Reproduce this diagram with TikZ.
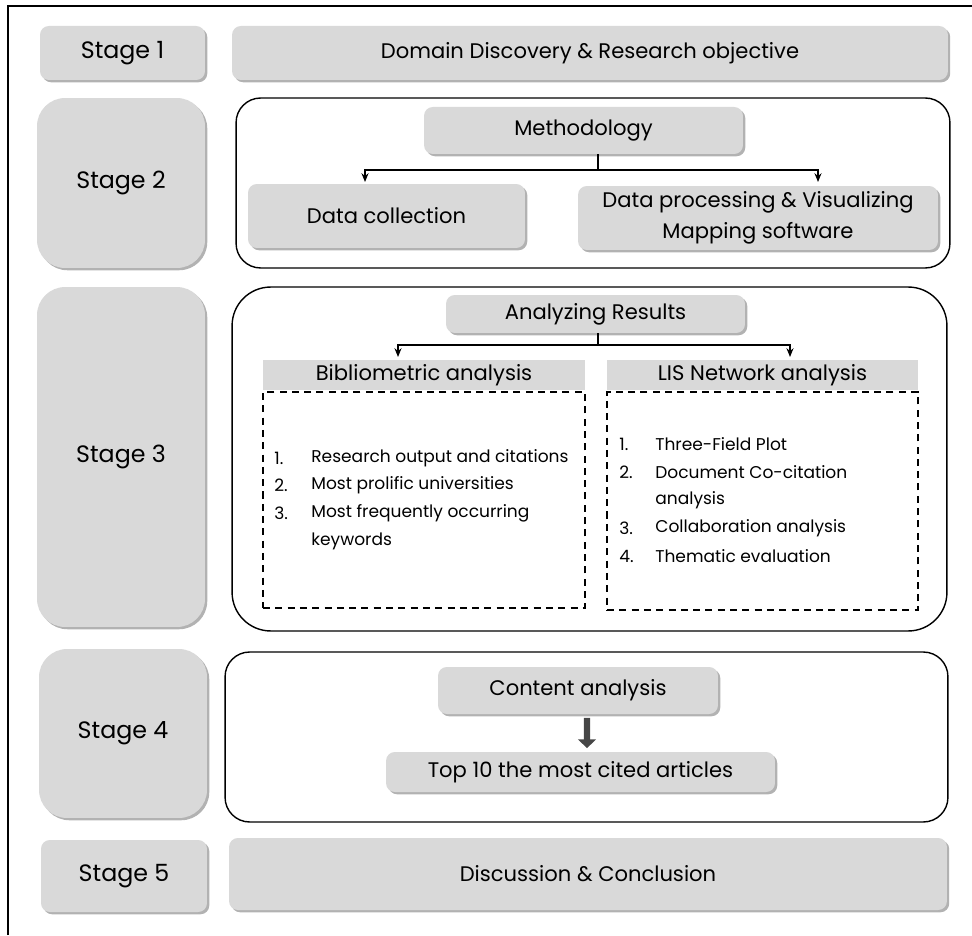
\documentclass[tikz,border=0pt]{standalone}
\usepackage{fontspec}
\setmainfont{Poppins}
\usetikzlibrary{shadows,arrows.meta}
\definecolor{boxgray}{RGB}{217,217,217}
\definecolor{arrowgray}{RGB}{70,70,70}

\tikzset{
  graybox/.style={fill=boxgray, rounded corners=5pt, inner sep=0pt, align=center,
    drop shadow={shadow xshift=1.3pt, shadow yshift=-1.3pt, fill=black, opacity=0.3}},
  stagebox/.style={graybox, font=\fontsize{13.5}{16}\selectfont},
  mainbox/.style={graybox, font=\fontsize{12}{14}\selectfont},
  subbox/.style={graybox, font=\fontsize{12}{18}\selectfont},
  stagearea/.style={draw, line width=0.8pt, rounded corners=14pt, inner sep=0pt},
  headbox/.style={fill=boxgray, inner sep=0pt, font=\fontsize{12}{14}\selectfont},
  listbox/.style={draw, dashed, line width=1pt, dash pattern=on 4pt off 3pt, inner sep=0pt},
  item/.style={anchor=west, inner sep=0pt, font=\fontsize{9.7}{12}\selectfont},
  link/.style={line width=0.7pt},
  linkarrow/.style={link, -{Stealth[length=5pt,width=4pt]}},
  fatarrow/.style={draw=arrowgray, line width=3.5pt, -{Triangle[length=5pt,width=10pt]}}
}

\begin{document}
\begin{tikzpicture}[x=0.02cm,y=-0.02cm]
\useasboundingbox (0,0) rectangle (972,935);
% outer frame
\draw[line width=1.1pt] (8,935) -- (8,6) -- (972,6);

% Stage 1
\node[stagebox, minimum width=3.3cm, minimum height=1.08cm] (st1) at (122.5,53) {Stage 1};
\node[mainbox, minimum width=14.32cm, minimum height=1.08cm] (obj) at (590,53) {Domain Discovery \& Research objective};

% Stage 2
\node[stagebox, rounded corners=16pt, minimum width=3.36cm, minimum height=3.4cm] (st2) at (121,183) {Stage 2};
\node[stagearea, minimum width=14.28cm, minimum height=3.4cm] (area2) at (593,183) {};
\node[subbox, minimum width=6.38cm, minimum height=0.94cm] (meth) at (583.5,130.5) {Methodology};
\node[subbox, minimum width=5.54cm, minimum height=1.28cm] (coll) at (386.5,216) {Data collection};
\node[subbox, minimum width=7.2cm, minimum height=1.28cm] (proc) at (758,218) {Data processing \& Visualizing\\Mapping software};
\coordinate (m1) at (598,170);
\coordinate (m2) at (365,182);
\coordinate (m3) at (818,182);
\draw[link] (m1 |- meth.south) -- (m1);
\draw[linkarrow] (m1) -| (m2);
\draw[linkarrow] (m1) -| (m3);

% Stage 3
\node[stagebox, rounded corners=16pt, minimum width=3.36cm, minimum height=6.8cm] (st3) at (121,457) {Stage 3};
\node[stagearea, rounded corners=22pt, minimum width=14.3cm, minimum height=6.88cm] (area3) at (589.5,459) {};
\node[subbox, minimum width=5.98cm, minimum height=0.76cm] (res) at (595.5,314) {Analyzing Results};
\node[headbox, minimum width=6.44cm, minimum height=0.6cm] (bibh) at (424,375) {Bibliometric analysis};
\node[listbox, minimum width=6.44cm, minimum height=4.32cm] (bib) at (424,500) {};
\node[headbox, minimum width=6.22cm, minimum height=0.6cm] (lish) at (762.5,375) {LIS Network analysis};
\node[listbox, minimum width=6.22cm, minimum height=4.36cm] (lis) at (762.5,501) {};
\coordinate (r1) at (598,345);
\coordinate (r2) at (398,357);
\coordinate (r3) at (790,357);
\draw[link] (r1 |- res.south) -- (r1);
\draw[linkarrow] (r1) -| (r2);
\draw[linkarrow] (r1) -| (r3);
% bibliometric items
\foreach \y/\n/\t [count=\i] in {458/1./Research output and citations, 485/2./Most prolific universities,
    513/3./Most frequently occurring, 541//keywords} {
  \node[item] (bn\i) at (274,\y) {\n};
  \node[item] (bt\i) at (311,\y) {\t};
}
% network items
\foreach \y/\n/\t [count=\i] in {444/1./Three-Field Plot, 472/2./Document Co-citation, 500//analysis,
    528/3./Collaboration analysis, 556/4./Thematic evaluation} {
  \node[item] (ln\i) at (619,\y) {\n};
  \node[item] (lt\i) at (655,\y) {\t};
}

% Stage 4
\node[stagebox, rounded corners=16pt, minimum width=3.36cm, minimum height=3.38cm] (st4) at (123,733.5) {Stage 4};
\node[stagearea, minimum width=14.46cm, minimum height=3.4cm] (area4) at (586.5,737) {};
\node[subbox, minimum width=5.6cm, minimum height=0.94cm] (cont) at (578,690.5) {Content analysis};
\node[subbox, minimum width=7.78cm, minimum height=0.8cm] (top) at (580.5,772) {Top 10 the most cited articles};
\draw[fatarrow] ([xshift=0.18cm, yshift=-2pt]cont.south) -- ([xshift=0.13cm, yshift=2pt]top.north);

% Stage 5
\node[stagebox, minimum width=3.32cm, minimum height=1.44cm] (st5) at (124,876) {Stage 5};
\node[mainbox, minimum width=14.36cm, minimum height=1.44cm] (conc) at (588,874) {Discussion \& Conclusion};
\end{tikzpicture}
\end{document}
